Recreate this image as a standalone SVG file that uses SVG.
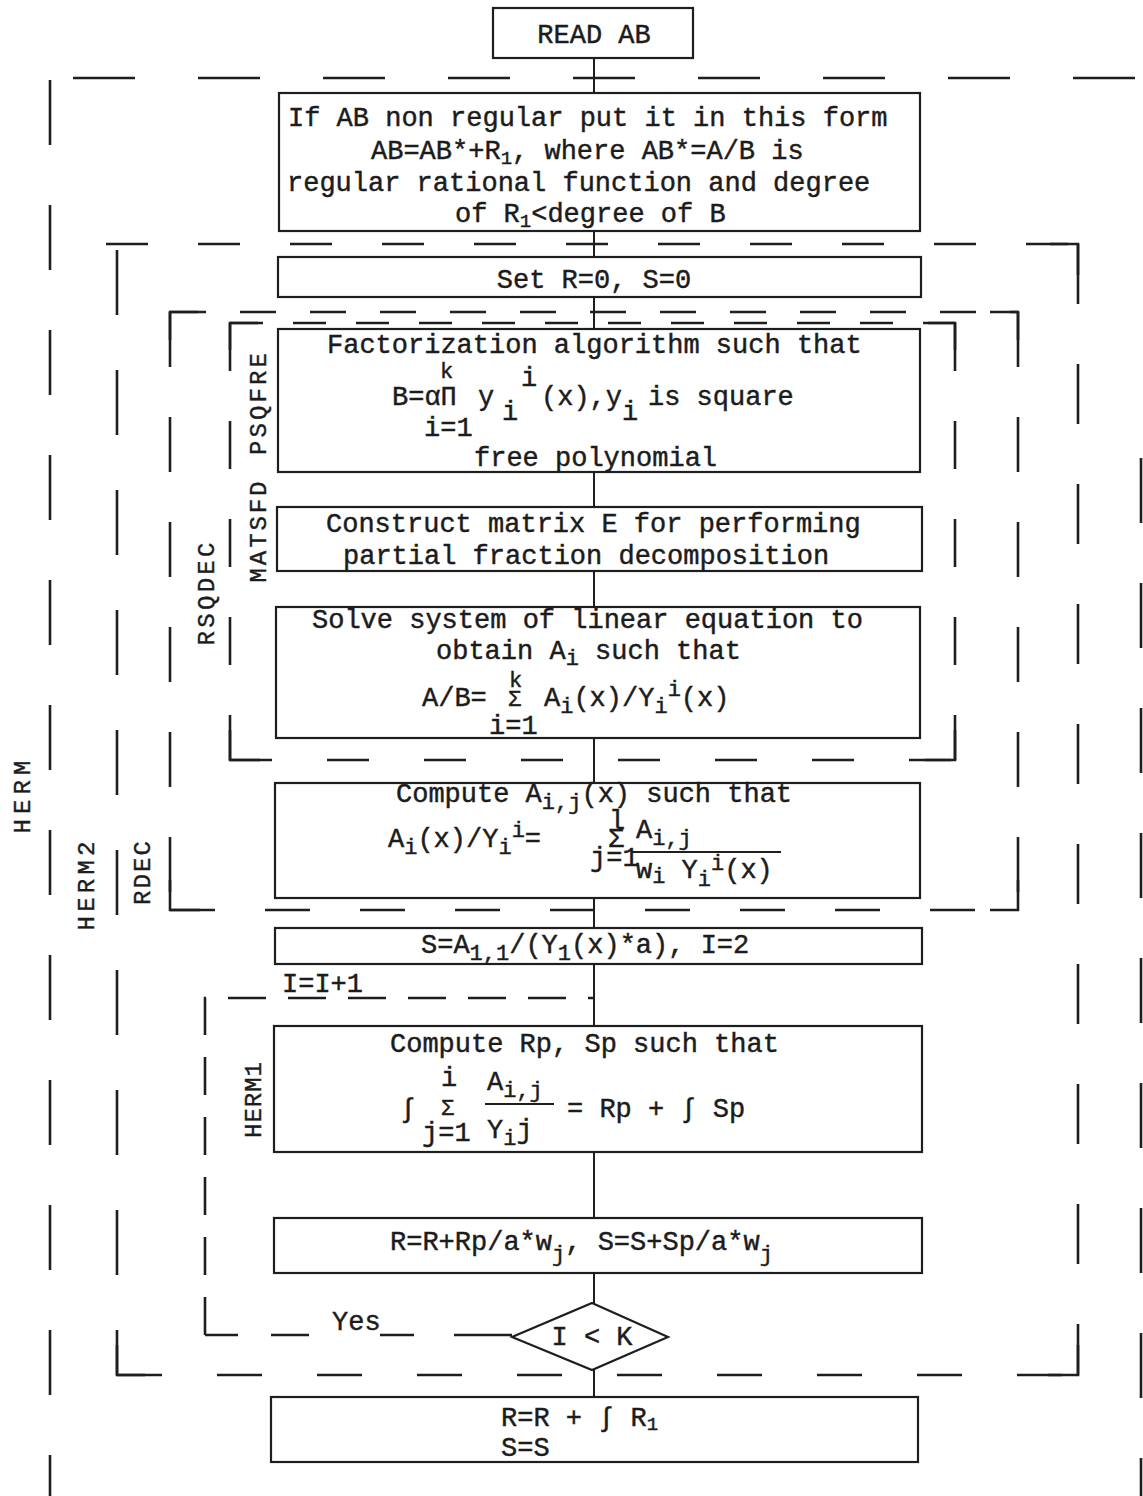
<svg xmlns="http://www.w3.org/2000/svg" width="1143" height="1496" viewBox="0 0 1143 1496">
<style>
.bg{fill:#ffffff}
.box{fill:none;stroke:#1e1e1e;stroke-width:2.2}
.fr{fill:none;stroke:#1e1e1e;stroke-width:2.6}
.con{fill:none;stroke:#1e1e1e;stroke-width:2}
.t{font-family:"Liberation Mono","Courier New",monospace;font-size:27px;fill:#1c1c1c;stroke:#1c1c1c;stroke-width:0.45}
.s{font-size:22px}
.xs{font-size:19px}
.lab{font-family:"Liberation Mono","Courier New",monospace;font-size:24px;fill:#1c1c1c;stroke:#1c1c1c;stroke-width:0.4;text-anchor:middle}
.m{text-anchor:middle}
</style>
<rect class="bg" x="0" y="0" width="1143" height="1496"/>

<g id="frames">
  <g id="frame-HERM">
    <line class="fr" x1="73" y1="78" x2="1143" y2="78" stroke-dasharray="62 63"/>
    <line class="fr" x1="50" y1="80" x2="50" y2="1496" stroke-dasharray="65 60"/>
    <line class="fr" x1="1141" y1="458" x2="1141" y2="1496" stroke-dasharray="65 60"/>
    <text class="lab" transform="translate(30,797) rotate(-90)" textLength="73" lengthAdjust="spacing">HERM</text>
  </g>
  <g id="frame-HERM2">
    <line class="fr" x1="106" y1="244" x2="1078" y2="244" stroke-dasharray="42 50"/>
    <line class="fr" x1="1078" y1="244" x2="1078" y2="1375" stroke-dasharray="60 60"/>
    <line class="fr" x1="117" y1="250" x2="117" y2="1375" stroke-dasharray="65 55"/>
    <line class="fr" x1="117" y1="1375" x2="1078" y2="1375" stroke-dasharray="45 55"/>
    <polyline class="fr" points="1050,244 1078,244 1078,275"/>
    <polyline class="fr" points="117,1345 117,1375 145,1375"/>
    <polyline class="fr" points="1048,1375 1078,1375 1078,1345"/>
    <text class="lab" transform="translate(94,886) rotate(-90)" textLength="89" lengthAdjust="spacing">HERM2</text>
  </g>
  <g id="frame-RDEC">
    <line class="fr" x1="170" y1="312" x2="1018" y2="312" stroke-dasharray="36 34"/>
    <line class="fr" x1="1018" y1="312" x2="1018" y2="910" stroke-dasharray="55 50"/>
    <line class="fr" x1="170" y1="312" x2="170" y2="910" stroke-dasharray="55 50"/>
    <line class="fr" x1="170" y1="910" x2="1018" y2="910" stroke-dasharray="45 50"/>
    <polyline class="fr" points="170,340 170,312 198,312"/>
    <polyline class="fr" points="990,312 1018,312 1018,340"/>
    <polyline class="fr" points="170,880 170,910 200,910"/>
    <polyline class="fr" points="990,910 1018,910 1018,880"/>
    <text class="lab" transform="translate(150,873) rotate(-90)" textLength="64" lengthAdjust="spacing">RDEC</text>
  </g>
  <g id="frame-RSQDEC">
    <line class="fr" x1="230" y1="323" x2="955" y2="323" stroke-dasharray="33 30"/>
    <line class="fr" x1="955" y1="323" x2="955" y2="760" stroke-dasharray="48 50"/>
    <line class="fr" x1="230" y1="323" x2="230" y2="760" stroke-dasharray="48 50"/>
    <line class="fr" x1="230" y1="760" x2="955" y2="760" stroke-dasharray="42 55"/>
    <polyline class="fr" points="230,350 230,323 258,323"/>
    <polyline class="fr" points="928,323 955,323 955,350"/>
    <polyline class="fr" points="230,730 230,760 260,760"/>
    <polyline class="fr" points="925,760 955,760 955,730"/>
    <text class="lab" transform="translate(214,594) rotate(-90)" textLength="103" lengthAdjust="spacing">RSQDEC</text>
  </g>
  <g id="frame-labels-inner">
    <text class="lab" transform="translate(266,404) rotate(-90)" textLength="102" lengthAdjust="spacing">PSQFRE</text>
    <text class="lab" transform="translate(266,532) rotate(-90)" textLength="101" lengthAdjust="spacing">MATSFD</text>
    <text class="lab" transform="translate(261,1100) rotate(-90)" textLength="76" lengthAdjust="spacing">HERM1</text>
  </g>
</g>

<g id="connectors">
  <line class="con" x1="594" y1="58" x2="594" y2="93"/>
  <line class="con" x1="594" y1="231" x2="594" y2="257"/>
  <line class="con" x1="594" y1="297" x2="594" y2="329"/>
  <line class="con" x1="594" y1="472" x2="594" y2="507"/>
  <line class="con" x1="594" y1="571" x2="594" y2="607"/>
  <line class="con" x1="594" y1="738" x2="594" y2="783"/>
  <line class="con" x1="594" y1="898" x2="594" y2="928"/>
  <line class="con" x1="594" y1="964" x2="594" y2="1026"/>
  <line class="con" x1="594" y1="1152" x2="594" y2="1218"/>
  <line class="con" x1="594" y1="1273" x2="594" y2="1303"/>
  <line class="con" x1="594" y1="1370" x2="594" y2="1397"/>
  <g id="loop-HERM1">
    <path class="fr" d="M205,1335 V998 H594" stroke-dasharray="38 22"/>
    <line class="fr" x1="205" y1="1335" x2="238" y2="1335"/>
    <line class="fr" x1="271" y1="1335" x2="309" y2="1335"/>
    <line class="fr" x1="380" y1="1335" x2="414" y2="1335"/>
    <line class="fr" x1="454" y1="1335" x2="512" y2="1335"/>
    <text class="t" x="282" y="992">I=I+1</text>
    <text class="t" x="332" y="1330">Yes</text>
  </g>
</g>

<g id="read-ab">
  <rect class="box" x="493" y="8" width="200" height="50"/>
  <text class="t m" x="594" y="43">READ AB</text>
</g>

<g id="normalize">
  <rect class="box" x="279" y="93" width="641" height="138"/>
  <text class="t" x="288" y="126">If AB non regular put it in this form</text>
  <text class="t" x="371" y="159">AB=AB*+R<tspan class="xs" dy="5">1</tspan><tspan dy="-5">, where AB*=A/B is</tspan></text>
  <text class="t" x="287" y="191">regular rational function and degree</text>
  <text class="t" x="455" y="222">of R<tspan class="xs" dy="5">1</tspan><tspan dy="-5">&lt;degree of B</tspan></text>
</g>

<g id="set-rs">
  <rect class="box" x="278" y="257" width="643" height="40"/>
  <text class="t m" x="594" y="288">Set R=0, S=0</text>
</g>

<g id="factorization">
  <rect class="box" x="278" y="329" width="642" height="143"/>
  <text class="t" x="327" y="353">Factorization algorithm such that</text>
  <text class="t s" x="440" y="378">k</text>
  <text class="t" x="392" y="405">B=αΠ</text>
  <text class="t" x="478" y="405">y</text>
  <text class="t" x="502" y="420">i</text>
  <text class="t" x="521" y="386">i</text>
  <text class="t" x="541" y="405">(x),y</text>
  <text class="t" x="622" y="420">i</text>
  <text class="t" x="648" y="405">is square</text>
  <text class="t" x="424" y="436">i=1</text>
  <text class="t" x="474" y="466">free polynomial</text>
</g>

<g id="construct-matrix">
  <rect class="box" x="277" y="507" width="645" height="64"/>
  <text class="t" x="326" y="532">Construct matrix E for performing</text>
  <text class="t" x="343" y="564">partial fraction decomposition</text>
</g>

<g id="solve-system">
  <rect class="box" x="276" y="607" width="644" height="131"/>
  <text class="t" x="312" y="628">Solve system of linear equation to</text>
  <text class="t" x="436" y="659">obtain A<tspan class="s" dy="6">i</tspan><tspan dy="-6"> such that</tspan></text>
  <text class="t s" x="509" y="687">k</text>
  <text class="t" x="422" y="706">A/B=</text>
  <text class="t s" x="508" y="706">Σ</text>
  <text class="t" x="544" y="706">A<tspan class="s" dy="7">i</tspan><tspan dy="-7">(x)/Y</tspan><tspan class="s" dy="7">i</tspan><tspan class="s" dy="-17">i</tspan><tspan dy="10">(x)</tspan></text>
  <text class="t" x="489" y="734">i=1</text>
</g>

<g id="compute-aij">
  <rect class="box" x="275" y="783" width="645" height="115"/>
  <text class="t" x="396" y="802">Compute A<tspan class="s" dy="7">i,j</tspan><tspan dy="-7">(x) such that</tspan></text>
  <text class="t" x="609" y="829" font-size="15">l</text>
  <text class="t" x="608" y="847" font-size="18">Σ</text>
  <text class="t" x="590" y="866" font-size="20">j=1</text>
  <text class="t" x="388" y="847">A<tspan class="s" dy="7">i</tspan><tspan dy="-7">(x)/Y</tspan><tspan class="s" dy="7">i</tspan><tspan class="s" dy="-17">i</tspan><tspan dy="10">=</tspan></text>
  <text class="t" x="636" y="838">A<tspan class="s" dy="7">i,j</tspan></text>
  <line class="con" x1="632" y1="852" x2="781" y2="852"/>
  <text class="t" x="636" y="878">w<tspan class="s" dy="5">i</tspan><tspan dy="-5"> Y</tspan><tspan class="s" dy="8">i</tspan><tspan class="s" dy="-16">i</tspan><tspan dy="8">(x)</tspan></text>
</g>

<g id="set-s">
  <rect class="box" x="275" y="928" width="647" height="36"/>
  <text class="t" x="421" y="953">S=A<tspan class="s" dy="7">1,1</tspan><tspan dy="-7">/(Y</tspan><tspan class="s" dy="7">1</tspan><tspan dy="-7">(x)*a), I=2</tspan></text>
</g>

<g id="compute-rp-sp">
  <rect class="box" x="274" y="1026" width="648" height="126"/>
  <text class="t" x="390" y="1052">Compute Rp, Sp such that</text>
  <text class="t" x="441" y="1086">i</text>
  <text class="t" x="400" y="1117" font-size="30">∫</text>
  <text class="t s" x="441" y="1115">Σ</text>
  <text class="t" x="422" y="1141">j=1</text>
  <text class="t" x="487" y="1090">A<tspan class="s" dy="7">i,j</tspan></text>
  <line class="con" x1="485" y1="1104" x2="554" y2="1104"/>
  <text class="t" x="567" y="1117">= Rp + ∫ Sp</text>
  <text class="t" x="487" y="1138">Y<tspan class="s" dy="7">i</tspan><tspan dy="-7">j</tspan></text>
</g>

<g id="update-rs">
  <rect class="box" x="274" y="1218" width="648" height="55"/>
  <text class="t" x="390" y="1250">R=R+Rp/a*w<tspan class="s" dy="11">j</tspan><tspan dy="-11">, S=S+Sp/a*w</tspan><tspan class="s" dy="11">j</tspan></text>
</g>

<g id="decision">
  <polygon class="box" points="592,1303 668,1337 592,1370 512,1337" stroke-width="2.8"/>
  <text class="t m" x="592" y="1345">I &lt; K</text>
</g>

<g id="result">
  <rect class="box" x="271" y="1397" width="647" height="65"/>
  <text class="t" x="501" y="1426">R=R + ∫ R<tspan class="xs" dy="4">1</tspan></text>
  <text class="t" x="501" y="1456">S=S</text>
</g>
</svg>
